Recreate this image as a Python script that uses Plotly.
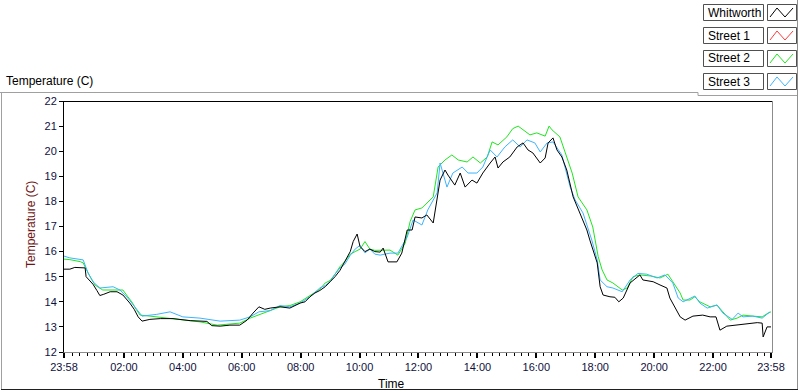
import plotly.graph_objects as go
from datetime import datetime, timedelta

# ---------------- data ----------------
series_names = ["Whitworth", "Street 1", "Street 2", "Street 3"]
series_colors = ["#000000", "#ff3c3c", "#1ee61e", "#3cb4ff"]

# minutes elapsed since the 23:58 start
whitworth_min = [0, 12, 22, 33, 43, 45, 53, 59, 67, 73, 81, 94, 108, 120, 134, 143, 151, 159, 175, 196,
                 222, 257, 291, 301, 318, 338, 358, 373, 385, 397, 409, 420, 440, 460, 481, 491, 501, 511,
                 521, 532, 542, 552, 562, 572, 583, 589, 597, 603, 613, 623, 633, 644, 650, 660, 678, 688,
                 699, 709, 715, 729, 739, 752, 760, 766, 776, 782, 796, 807, 817, 831, 841, 853, 868, 878,
                 884, 894, 908, 923, 935, 945, 955, 970, 980, 986, 996, 1004, 1014, 1024, 1037, 1051, 1065,
                 1071, 1077, 1086, 1092, 1098, 1112, 1122, 1130, 1139, 1153, 1167, 1173, 1179, 1200, 1214,
                 1228, 1234, 1244, 1255, 1265, 1281, 1301, 1316, 1328, 1336, 1350, 1371, 1391, 1412, 1422,
                 1424, 1432, 1440]
whitworth_temp = [15.30, 15.30, 15.37, 15.37, 15.35, 15.00, 14.85, 14.70, 14.45, 14.25, 14.30, 14.40, 14.40,
                  14.27, 13.95, 13.70, 13.40, 13.23, 13.30, 13.33, 13.33, 13.25, 13.22, 13.05, 13.03, 13.07,
                  13.07, 13.27, 13.55, 13.80, 13.70, 13.75, 13.80, 13.75, 13.95, 14.00, 14.20, 14.35, 14.45,
                  14.60, 14.80, 15.00, 15.25, 15.60, 16.00, 16.40, 16.70, 16.20, 16.00, 16.10, 16.00, 15.98,
                  16.14, 15.59, 15.59, 15.94, 16.86, 16.86, 17.38, 17.34, 17.46, 17.14, 18.18, 18.85, 19.25,
                  19.05, 18.65, 19.13, 18.57, 18.85, 18.73, 19.13, 19.53, 19.77, 19.33, 19.57, 19.77, 20.17,
                  20.33, 20.05, 19.93, 19.53, 19.73, 20.33, 20.53, 20.05, 19.77, 19.25, 18.18, 17.54, 16.86,
                  16.46, 16.06, 15.55, 14.60, 14.27, 14.20, 14.18, 14.00, 14.15, 14.75, 15.00, 15.07, 14.87,
                  14.80, 14.67, 14.55, 14.15, 13.80, 13.40, 13.27, 13.43, 13.47, 13.40, 13.40, 12.87, 13.03,
                  13.08, 13.15, 13.17, 13.15, 12.60, 13.00, 13.00]

street1_min = []
street1_temp = []

street2_min = [0, 12, 33, 39, 49, 63, 79, 100, 120, 130, 138, 147, 155, 175, 189, 230, 277, 312, 338, 358,
               379, 397, 420, 440, 460, 481, 501, 521, 532, 542, 552, 562, 572, 583, 593, 603, 613, 623, 633,
               644, 664, 680, 695, 705, 715, 729, 741, 752, 762, 776, 790, 803, 821, 833, 848, 862, 872, 884,
               902, 914, 925, 935, 949, 963, 980, 988, 994, 1010, 1024, 1035, 1047, 1065, 1077, 1082, 1088,
               1096, 1106, 1118, 1137, 1147, 1159, 1173, 1194, 1214, 1230, 1240, 1255, 1261, 1275, 1285,
               1295, 1316, 1330, 1342, 1357, 1371, 1383, 1403, 1422, 1434, 1440]
street2_temp = [15.70, 15.68, 15.60, 15.55, 15.15, 14.67, 14.47, 14.47, 14.47, 14.20, 14.00, 13.70, 13.47,
                13.43, 13.40, 13.30, 13.20, 13.07, 13.10, 13.15, 13.35, 13.47, 13.65, 13.80, 13.85, 14.00,
                14.25, 14.50, 14.75, 14.85, 15.10, 15.40, 15.60, 15.90, 16.00, 16.10, 16.40, 16.10, 16.05,
                16.06, 16.06, 15.86, 16.34, 17.20, 17.66, 17.74, 17.98, 18.18, 19.37, 19.65, 19.85, 19.65,
                19.57, 19.77, 19.53, 19.77, 20.37, 20.25, 20.57, 20.90, 21.00, 20.85, 20.65, 20.73, 20.60,
                21.00, 20.85, 20.57, 19.77, 19.13, 18.18, 17.66, 16.98, 16.46, 15.80, 15.27, 14.87, 14.75,
                14.47, 14.55, 15.00, 15.07, 15.03, 14.95, 15.10, 14.80, 14.35, 14.07, 14.07, 14.20, 14.00,
                13.80, 13.87, 13.60, 13.27, 13.35, 13.47, 13.43, 13.40, 13.55, 13.60]

street3_min = [0, 12, 39, 49, 59, 73, 100, 114, 130, 149, 159, 189, 216, 242, 277, 318, 358, 379, 397, 420,
               440, 460, 481, 501, 521, 532, 542, 552, 562, 572, 583, 593, 603, 613, 623, 633, 644, 664, 680,
               699, 711, 729, 741, 760, 766, 780, 792, 811, 823, 841, 853, 868, 882, 898, 914, 929, 943, 959,
               970, 984, 996, 1014, 1031, 1041, 1057, 1075, 1086, 1092, 1106, 1118, 1137, 1153, 1169, 1187,
               1208, 1224, 1240, 1251, 1261, 1285, 1295, 1310, 1330, 1342, 1361, 1373, 1383, 1403, 1422, 1438]
street3_temp = [15.82, 15.75, 15.67, 15.15, 14.80, 14.55, 14.60, 14.47, 14.15, 13.67, 13.43, 13.50, 13.60,
                13.40, 13.35, 13.23, 13.27, 13.40, 13.60, 13.65, 13.85, 13.80, 13.95, 14.20, 14.55, 14.65,
                14.80, 15.10, 15.35, 15.50, 15.85, 16.10, 16.25, 15.95, 16.10, 15.90, 15.86, 15.94, 15.94,
                16.58, 17.26, 17.06, 17.66, 18.34, 19.53, 18.57, 19.13, 19.37, 19.13, 19.13, 19.37, 20.05,
                19.77, 20.17, 20.45, 20.17, 20.45, 20.33, 19.97, 20.33, 20.37, 19.85, 18.57, 18.06, 17.54,
                16.46, 15.67, 14.87, 14.60, 14.55, 14.40, 14.87, 15.13, 15.10, 14.95, 15.07, 14.75, 14.15,
                14.00, 14.23, 13.95, 13.75, 13.87, 13.55, 13.30, 13.55, 13.40, 13.43, 13.35, 13.60]

x_tick_labels = ["23:58", "02:00", "04:00", "06:00", "08:00", "10:00", "12:00",
                 "14:00", "16:00", "18:00", "20:00", "22:00", "23:58"]
y_tick_values = [12, 13, 14, 15, 16, 17, 18, 19, 20, 21, 22]

# ---------------- helpers ----------------
start = datetime(2000, 1, 1, 23, 58)
end = start + timedelta(minutes=1440)


def to_time(mins):
    return [start + timedelta(minutes=m) for m in mins]


x_tick_vals = [start] + [datetime(2000, 1, 2, int(s[:2]), int(s[3:])) for s in x_tick_labels[1:-1]] + [end]

W, H = 800, 392
L, R, T, B = 64, 771, 101, 352


def px(x):
    return (x - L) / (R - L)


def py(y):
    return (B - y) / (B - T)


FONT = "Liberation Sans, Arial, sans-serif"

fig = go.Figure()
series = [(whitworth_min, whitworth_temp), (street1_min, street1_temp),
          (street2_min, street2_temp), (street3_min, street3_temp)]
for idx in [1, 2, 3, 0]:
    mins, temps = series[idx]
    fig.add_trace(go.Scatter(x=to_time(mins), y=temps, mode="lines", name=series_names[idx],
                             line=dict(color=series_colors[idx], width=1), showlegend=False))

shapes = []


def hline(x0, x1, y, color, w=1):
    shapes.append(dict(type="line", xref="paper", yref="paper", x0=px(x0), x1=px(x1), y0=py(y), y1=py(y),
                       line=dict(color=color, width=w)))


def vline(x, y0, y1, color, w=1):
    shapes.append(dict(type="line", xref="paper", yref="paper", x0=px(x), x1=px(x), y0=py(y0), y1=py(y1),
                       line=dict(color=color, width=w)))


# outer panel frame
hline(0, 698, 92.5, "#a0a0a0")
vline(698, 92.5, 95.5, "#a0a0a0")
hline(698, 797, 95.5, "#a0a0a0")
vline(797.5, 0, 390, "#909090")
vline(1.5, 92.5, 390, "#a0a0a0")
hline(1, 798, 389.5, "#202020")

# plot area frame
hline(63.5, 772.5, 101.5, "#000000")
vline(63.5, 101, 353, "#000000")
vline(772.5, 101, 353, "#8c8c8c")
hline(63.5, 772.5, 352.5, "#8c8c8c")

annotations = []

# legend boxes
for i, name in enumerate(series_names):
    y0 = 4 + 23 * i
    y1 = y0 + 16
    shapes.append(dict(type="rect", xref="paper", yref="paper", x0=px(703.5), x1=px(763.5), y0=py(y1 + 0.5),
                       y1=py(y0 + 0.5), line=dict(color="#505050", width=1), fillcolor="white"))
    shapes.append(dict(type="rect", xref="paper", yref="paper", x0=px(767.5), x1=px(796.5), y0=py(y1 + 0.5),
                       y1=py(y0 + 0.5), line=dict(color="#505050", width=1), fillcolor="white"))
    path = "M {},{} L {},{} L {},{} L {},{}".format(px(770), py(y0 + 13), px(777), py(y0 + 4),
                                                    px(785), py(y0 + 13), px(793), py(y0 + 4))
    shapes.append(dict(type="path", xref="paper", yref="paper", path=path,
                       line=dict(color=series_colors[i], width=1)))
    annotations.append(dict(xref="paper", yref="paper", x=px(705.5), y=py(y0 + 8.5), text=name,
                            showarrow=False, xanchor="left", yanchor="middle",
                            font=dict(family=FONT, size=12, color="#000000")))

annotations.append(dict(xref="paper", yref="paper", x=px(4), y=py(81), text="Temperature (C)",
                        showarrow=False, xanchor="left", yanchor="middle",
                        font=dict(family=FONT, size=12, color="#000000")))
annotations.append(dict(xref="paper", yref="paper", x=px(31), y=py(225), text="Temperature (C)",
                        showarrow=False, xanchor="center", yanchor="middle", textangle=-90,
                        font=dict(family=FONT, size=12, color="#6e1616")))
annotations.append(dict(xref="paper", yref="paper", x=px(391), y=py(384), text="Time",
                        showarrow=False, xanchor="center", yanchor="middle",
                        font=dict(family=FONT, size=12, color="#000000")))

fig.update_layout(
    width=W, height=H,
    margin=dict(l=L, r=W - R, t=T, b=H - B, pad=0),
    paper_bgcolor="white", plot_bgcolor="white",
    showlegend=False,
    shapes=shapes, annotations=annotations,
    xaxis=dict(type="date", range=[start, end], tickmode="array", tickvals=x_tick_vals,
               ticktext=x_tick_labels, ticks="outside", ticklen=5, tickwidth=2, tickcolor="#000000",
               showgrid=False, zeroline=False, showline=False,
               tickfont=dict(family=FONT, size=11, color="#101040"),
               minor=dict(ticks="outside", ticklen=3, tickwidth=1, tickcolor="#000000",
                          dtick=15 * 60 * 1000, tick0="2000-01-02 00:00:00", showgrid=False)),
    yaxis=dict(range=[12, 22], tickmode="array", tickvals=y_tick_values,
               ticktext=[str(v) for v in y_tick_values], ticks="outside", ticklen=4, tickwidth=1,
               tickcolor="#000000", showgrid=False, zeroline=False, showline=False,
               tickfont=dict(family=FONT, size=11, color="#101040")),
)

fig.write_html("out.html", config={"displayModeBar": False},
               post_script="document.body.style.margin='0';document.body.style.overflow='hidden';")
